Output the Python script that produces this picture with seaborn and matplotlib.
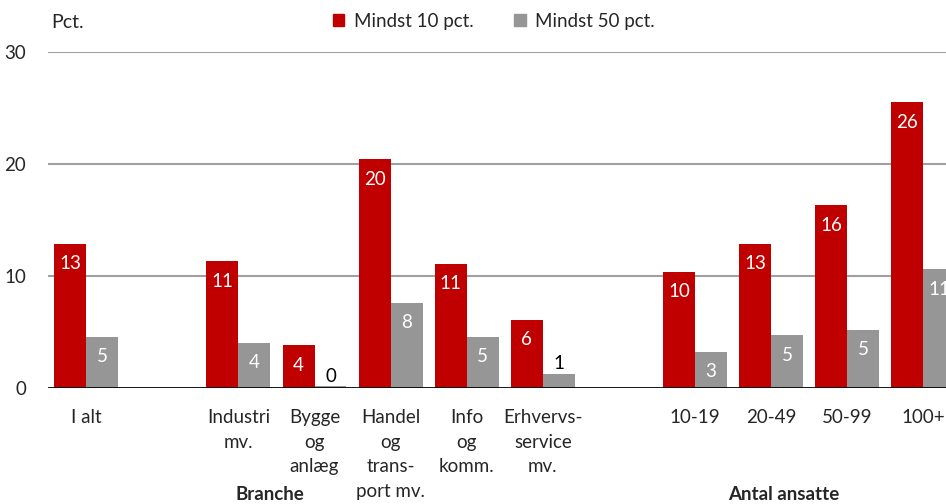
import pandas as pd
import numpy as np
import matplotlib.pyplot as plt
import seaborn as sns
from matplotlib.patches import Patch

# data
categories = ["I alt", "Industri mv.", "Bygge og anlæg", "Handel og transport mv.",
              "Info og komm.", "Erhvervsservice mv.", "10-19", "20-49", "50-99", "100+"]
tick_labels = ["I alt", "Industri\nmv.", "Bygge\nog\nanlæg", "Handel\nog\ntrans-\nport mv.",
               "Info\nog\nkomm.", "Erhvervs-\nservice\nmv.", "10-19", "20-49", "50-99", "100+"]
mindst_10 = [12.9, 11.3, 3.8, 20.4, 11.1, 6.1, 10.4, 12.9, 16.3, 25.5]
mindst_50 = [4.6, 4.0, 0.2, 7.6, 4.6, 1.3, 3.2, 4.7, 5.2, 10.6]
series = ["Mindst 10 pct.", "Mindst 50 pct."]

# empty slots between the groups
order = [categories[0], "gap1"] + categories[1:6] + ["gap2"] + categories[6:]

df = pd.DataFrame({
    "kategori": categories * 2,
    "serie": [series[0]] * len(categories) + [series[1]] * len(categories),
    "pct": mindst_10 + mindst_50,
})

sns.set_style("white")
plt.rcParams["font.family"] = ["Lato", "DejaVu Sans"]

red = "#C00000"
grey = "#969696"
fs = 13.5

fig = plt.figure(figsize=(9.46, 5.04), dpi=100)
ax = fig.add_axes([0.051, 0.23, 0.949, 0.667])

sns.barplot(data=df, x="kategori", y="pct", hue="serie", order=order,
            hue_order=series, palette=[red, grey], width=0.84, saturation=1,
            errorbar=None, ax=ax, legend=False, linewidth=0, zorder=3)

ax.set_ylim(0, 30)
ax.set_xlim(-0.5, 11.3)
ax.set_yticks([0, 10, 20, 30])
ax.set_yticklabels(["0", "10", "20", "30"], fontsize=fs)
for y in [10, 20, 30]:
    ax.axhline(y, color="#A0A0A0", lw=1.5, zorder=1)
ax.axhline(0, color="black", lw=2, zorder=4)
for s in ax.spines.values():
    s.set_visible(False)
ax.tick_params(axis="y", length=0, pad=16)
ax.tick_params(axis="x", length=0, pad=15)

pos = [order.index(c) for c in categories]
ax.set_xticks(pos)
ax.set_xticklabels(tick_labels, fontsize=fs, linespacing=1.55, va="top")
ax.set_xlabel("")
ax.set_ylabel("")

# value labels
for cont, vals in zip(ax.containers, [mindst_10, mindst_50]):
    for bar, v in zip(cont, vals):
        if np.isnan(bar.get_height()):
            continue
        x = bar.get_x() + bar.get_width() / 2
        h = bar.get_height()
        if h < 2:
            ax.text(x, h + 0.1, f"{v:.0f}", ha="center", va="bottom",
                    fontsize=fs, color="black", zorder=5)
        else:
            ax.text(x, h - 1.0, f"{v:.0f}", ha="center", va="top",
                    fontsize=fs, color="white", zorder=5)

# y unit and group titles
fig.text(0.054, 0.955, "Pct.", fontsize=fs + 0.5, ha="left", va="center")
fig.text(0.285, 0.018, "Branche", fontsize=fs, fontweight="bold", ha="center", va="center")
fig.text(0.828, 0.018, "Antal ansatte", fontsize=fs, fontweight="bold", ha="center", va="center")

# legend
handles = [Patch(color=red), Patch(color=grey)]
fig.legend(handles, series, loc="center", bbox_to_anchor=(0.522, 0.958), ncol=2,
           frameon=False, fontsize=fs, handlelength=0.6, handleheight=0.6,
           handletextpad=0.5, columnspacing=2.2)

plt.savefig("out.png", dpi=100)
